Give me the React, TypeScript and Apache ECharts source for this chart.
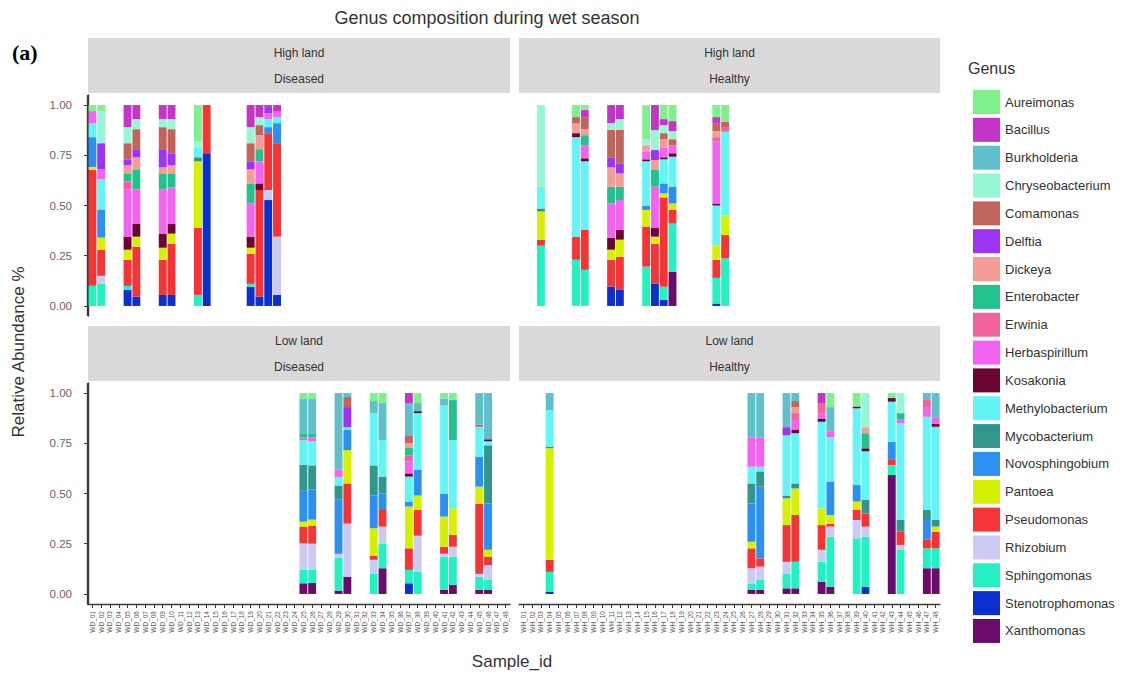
import React, { useEffect, useRef } from "react";
import * as echarts from "echarts";

// Genus order as listed in the key (top of each stack = first genus)
const genera = [
  "Aureimonas", "Bacillus", "Burkholderia", "Chryseobacterium", "Comamonas",
  "Delftia", "Dickeya", "Enterobacter", "Erwinia", "Herbaspirillum",
  "Kosakonia", "Methylobacterium", "Mycobacterium", "Novosphingobium", "Pantoea",
  "Pseudomonas", "Rhizobium", "Sphingomonas", "Stenotrophomonas", "Xanthomonas",
];

const genusColors = [
  "#7ef08c", "#c334c9", "#5fbfca", "#97f7d3", "#c2645c",
  "#9c33f5", "#f79c94", "#22c28c", "#f2629c", "#f562f2",
  "#6b0532", "#62f5f5", "#32968c", "#2b90f0", "#d5f000",
  "#f53535", "#cbcaf5", "#22f2c2", "#0c2fd0", "#6b0c6b",
];

// Sample ids on the shared x axis of each column of panels
const diseasedIds = [
  "WD_01", "WD_02", "WD_03", "WD_04", "WD_05", "WD_06", "WD_07", "WD_08",
  "WD_09", "WD_10", "WD_11", "WD_12", "WD_13", "WD_14", "WD_15", "WD_16",
  "WD_17", "WD_18", "WD_19", "WD_20", "WD_21", "WD_22", "WD_23", "WD_24",
  "WD_25", "WD_26", "WD_27", "WD_28", "WD_29", "WD_30", "WD_31", "WD_32",
  "WD_33", "WD_34", "WD_35", "WD_36", "WD_37", "WD_38", "WD_39", "WD_40",
  "WD_41", "WD_42", "WD_43", "WD_44", "WD_45", "WD_46", "WD_47", "WD_48",
];
const healthyIds = [
  "WH_01", "WH_02", "WH_03", "WH_04", "WH_05", "WH_06", "WH_07", "WH_08",
  "WH_09", "WH_10", "WH_11", "WH_12", "WH_13", "WH_14", "WH_15", "WH_16",
  "WH_17", "WH_18", "WH_19", "WH_20", "WH_21", "WH_22", "WH_23", "WH_24",
  "WH_25", "WH_26", "WH_27", "WH_28", "WH_29", "WH_30", "WH_31", "WH_32",
  "WH_33", "WH_34", "WH_35", "WH_36", "WH_37", "WH_38", "WH_39", "WH_40",
  "WH_41", "WH_42", "WH_43", "WH_44", "WH_45", "WH_46", "WH_47", "WH_48",
];

type Sample = { id: string; ab: Record<string, number> };

const highDiseased: Sample[] = [
  { id: "WD_01", ab: { Sphingomonas: 0.1, Pseudomonas: 0.577, Pantoea: 0.015, Novosphingobium: 0.148, Methylobacterium: 0.07, Herbaspirillum: 0.06, Aureimonas: 0.03 } },
  { id: "WD_02", ab: { Sphingomonas: 0.11, Rhizobium: 0.04, Pseudomonas: 0.13, Pantoea: 0.06, Novosphingobium: 0.14, Methylobacterium: 0.15, Herbaspirillum: 0.05, Delftia: 0.13, Chryseobacterium: 0.16, Aureimonas: 0.03 } },
  { id: "WD_05", ab: { Stenotrophomonas: 0.08, Sphingomonas: 0.02, Pseudomonas: 0.13, Pantoea: 0.05, Kosakonia: 0.065, Herbaspirillum: 0.235, Erwinia: 0.04, Enterobacter: 0.04, Dickeya: 0.04, Delftia: 0.03, Comamonas: 0.08, Chryseobacterium: 0.08, Bacillus: 0.11 } },
  { id: "WD_06", ab: { Stenotrophomonas: 0.046, Pseudomonas: 0.249, Pantoea: 0.05, Kosakonia: 0.065, Herbaspirillum: 0.17, Enterobacter: 0.1, Dickeya: 0.06, Delftia: 0.04, Comamonas: 0.1, Chryseobacterium: 0.05, Bacillus: 0.07 } },
  { id: "WD_09", ab: { Stenotrophomonas: 0.055, Pseudomonas: 0.175, Pantoea: 0.06, Kosakonia: 0.07, Herbaspirillum: 0.22, Enterobacter: 0.08, Dickeya: 0.03, Delftia: 0.09, Comamonas: 0.11, Chryseobacterium: 0.04, Bacillus: 0.07 } },
  { id: "WD_10", ab: { Stenotrophomonas: 0.055, Pseudomonas: 0.255, Pantoea: 0.05, Kosakonia: 0.05, Herbaspirillum: 0.18, Enterobacter: 0.07, Dickeya: 0.04, Delftia: 0.06, Comamonas: 0.12, Chryseobacterium: 0.05, Bacillus: 0.07 } },
  { id: "WD_13", ab: { Sphingomonas: 0.055, Pseudomonas: 0.335, Pantoea: 0.33, Mycobacterium: 0.02, Methylobacterium: 0.05, Chryseobacterium: 0.03, Aureimonas: 0.18 } },
  { id: "WD_14", ab: { Stenotrophomonas: 0.76, Pseudomonas: 0.24 } },
  { id: "WD_19", ab: { Stenotrophomonas: 0.096, Sphingomonas: 0.014, Pseudomonas: 0.15, Pantoea: 0.03, Kosakonia: 0.055, Herbaspirillum: 0.165, Enterobacter: 0.1, Dickeya: 0.07, Delftia: 0.04, Comamonas: 0.09, Chryseobacterium: 0.08, Bacillus: 0.11 } },
  { id: "WD_20", ab: { Stenotrophomonas: 0.046, Pseudomonas: 0.531, Kosakonia: 0.033, Herbaspirillum: 0.11, Enterobacter: 0.06, Dickeya: 0.07, Comamonas: 0.05, Chryseobacterium: 0.04, Bacillus: 0.06 } },
  { id: "WD_21", ab: { Stenotrophomonas: 0.527, Rhizobium: 0.05, Pseudomonas: 0.283, Novosphingobium: 0.03, Methylobacterium: 0.04, Herbaspirillum: 0.03, Delftia: 0.025, Bacillus: 0.015 } },
  { id: "WD_22", ab: { Stenotrophomonas: 0.055, Rhizobium: 0.29, Pseudomonas: 0.465, Novosphingobium: 0.1, Methylobacterium: 0.03, Herbaspirillum: 0.027, Bacillus: 0.033 } },
];

const highHealthy: Sample[] = [
  { id: "WH_03", ab: { Sphingomonas: 0.3, Pseudomonas: 0.03, Pantoea: 0.14, Mycobacterium: 0.015, Methylobacterium: 0.109, Chryseobacterium: 0.406 } },
  { id: "WH_07", ab: { Sphingomonas: 0.23, Pseudomonas: 0.115, Methylobacterium: 0.495, Kosakonia: 0.02, Dickeya: 0.05, Comamonas: 0.03, Aureimonas: 0.06 } },
  { id: "WH_08", ab: { Sphingomonas: 0.18, Pseudomonas: 0.2, Methylobacterium: 0.34, Kosakonia: 0.015, Herbaspirillum: 0.065, Enterobacter: 0.05, Dickeya: 0.03, Comamonas: 0.06, Bacillus: 0.035, Aureimonas: 0.025 } },
  { id: "WH_11", ab: { Stenotrophomonas: 0.096, Pseudomonas: 0.134, Pantoea: 0.05, Kosakonia: 0.06, Herbaspirillum: 0.17, Enterobacter: 0.084, Dickeya: 0.096, Delftia: 0.05, Comamonas: 0.136, Chryseobacterium: 0.034, Bacillus: 0.09 } },
  { id: "WH_12", ab: { Stenotrophomonas: 0.08, Pseudomonas: 0.165, Pantoea: 0.085, Kosakonia: 0.05, Herbaspirillum: 0.147, Enterobacter: 0.067, Dickeya: 0.066, Delftia: 0.05, Comamonas: 0.166, Chryseobacterium: 0.054, Bacillus: 0.07 } },
  { id: "WH_15", ab: { Sphingomonas: 0.196, Pseudomonas: 0.199, Pantoea: 0.083, Novosphingobium: 0.022, Methylobacterium: 0.22, Kosakonia: 0.01, Herbaspirillum: 0.04, Dickeya: 0.03, Chryseobacterium: 0.03, Aureimonas: 0.17 } },
  { id: "WH_16", ab: { Stenotrophomonas: 0.11, Pseudomonas: 0.2, Pantoea: 0.035, Kosakonia: 0.045, Herbaspirillum: 0.204, Enterobacter: 0.083, Dickeya: 0.049, Delftia: 0.05, Chryseobacterium: 0.099, Bacillus: 0.125 } },
  { id: "WH_17", ab: { Stenotrophomonas: 0.03, Sphingomonas: 0.066, Pseudomonas: 0.444, Pantoea: 0.02, Novosphingobium: 0.05, Methylobacterium: 0.12, Kosakonia: 0.01, Herbaspirillum: 0.05, Dickeya: 0.04, Comamonas: 0.03, Chryseobacterium: 0.04, Bacillus: 0.03, Aureimonas: 0.07 } },
  { id: "WH_18", ab: { Xanthomonas: 0.17, Sphingomonas: 0.24, Pseudomonas: 0.068, Pantoea: 0.032, Novosphingobium: 0.084, Methylobacterium: 0.149, Kosakonia: 0.017, Herbaspirillum: 0.04, Comamonas: 0.03, Chryseobacterium: 0.04, Bacillus: 0.05, Aureimonas: 0.08 } },
  { id: "WH_23", ab: { Stenotrophomonas: 0.012, Sphingomonas: 0.128, Pseudomonas: 0.09, Pantoea: 0.07, Methylobacterium: 0.2, Kosakonia: 0.01, Herbaspirillum: 0.31, Erwinia: 0.02, Dickeya: 0.03, Comamonas: 0.04, Bacillus: 0.03, Aureimonas: 0.06 } },
  { id: "WH_24", ab: { Sphingomonas: 0.237, Pseudomonas: 0.116, Pantoea: 0.097, Methylobacterium: 0.417, Erwinia: 0.02, Comamonas: 0.03, Aureimonas: 0.083 } },
];

const lowDiseased: Sample[] = [
  { id: "WD_25", ab: { Xanthomonas: 0.053, Sphingomonas: 0.067, Rhizobium: 0.132, Pseudomonas: 0.083, Pantoea: 0.025, Novosphingobium: 0.157, Mycobacterium: 0.125, Methylobacterium: 0.124, Herbaspirillum: 0.014, Enterobacter: 0.02, Burkholderia: 0.17, Aureimonas: 0.03 } },
  { id: "WD_26", ab: { Xanthomonas: 0.055, Sphingomonas: 0.065, Rhizobium: 0.13, Pseudomonas: 0.09, Pantoea: 0.03, Novosphingobium: 0.15, Mycobacterium: 0.12, Methylobacterium: 0.12, Herbaspirillum: 0.02, Enterobacter: 0.02, Burkholderia: 0.17, Aureimonas: 0.03 } },
  { id: "WD_29", ab: { Xanthomonas: 0.017, Sphingomonas: 0.163, Rhizobium: 0.02, Novosphingobium: 0.27, Mycobacterium: 0.07, Methylobacterium: 0.04, Herbaspirillum: 0.04, Burkholderia: 0.38 } },
  { id: "WD_30", ab: { Xanthomonas: 0.086, Rhizobium: 0.264, Pseudomonas: 0.2, Pantoea: 0.166, Novosphingobium: 0.1, Methylobacterium: 0.014, Delftia: 0.1, Comamonas: 0.05, Burkholderia: 0.02 } },
  { id: "WD_33", ab: { Sphingomonas: 0.1, Rhizobium: 0.07, Pseudomonas: 0.02, Pantoea: 0.137, Novosphingobium: 0.163, Mycobacterium: 0.15, Methylobacterium: 0.26, Burkholderia: 0.06, Aureimonas: 0.04 } },
  { id: "WD_34", ab: { Xanthomonas: 0.128, Sphingomonas: 0.122, Rhizobium: 0.085, Pseudomonas: 0.083, Novosphingobium: 0.082, Mycobacterium: 0.084, Methylobacterium: 0.182, Burkholderia: 0.184, Aureimonas: 0.05 } },
  { id: "WD_37", ab: { Stenotrophomonas: 0.053, Sphingomonas: 0.067, Pseudomonas: 0.107, Pantoea: 0.208, Novosphingobium: 0.025, Methylobacterium: 0.124, Kosakonia: 0.016, Herbaspirillum: 0.06, Erwinia: 0.03, Enterobacter: 0.04, Dickeya: 0.02, Comamonas: 0.04, Burkholderia: 0.16, Bacillus: 0.05 } },
  { id: "WD_38", ab: { Sphingomonas: 0.11, Rhizobium: 0.18, Pseudomonas: 0.128, Pantoea: 0.072, Novosphingobium: 0.127, Methylobacterium: 0.283, Kosakonia: 0.01, Burkholderia: 0.04, Aureimonas: 0.05 } },
  { id: "WD_41", ab: { Xanthomonas: 0.02, Sphingomonas: 0.166, Rhizobium: 0.014, Pseudomonas: 0.035, Pantoea: 0.15, Novosphingobium: 0.115, Methylobacterium: 0.44, Burkholderia: 0.033, Aureimonas: 0.027 } },
  { id: "WD_42", ab: { Xanthomonas: 0.045, Sphingomonas: 0.141, Rhizobium: 0.049, Pseudomonas: 0.059, Pantoea: 0.132, Methylobacterium: 0.34, Enterobacter: 0.199, Aureimonas: 0.035 } },
  { id: "WD_45", ab: { Xanthomonas: 0.02, Sphingomonas: 0.066, Rhizobium: 0.014, Pseudomonas: 0.35, Pantoea: 0.084, Novosphingobium: 0.149, Methylobacterium: 0.149, Comamonas: 0.01, Burkholderia: 0.158 } },
  { id: "WD_46", ab: { Xanthomonas: 0.02, Sphingomonas: 0.05, Rhizobium: 0.074, Pseudomonas: 0.042, Pantoea: 0.034, Novosphingobium: 0.23, Mycobacterium: 0.29, Methylobacterium: 0.02, Kosakonia: 0.01, Burkholderia: 0.23 } },
];

const lowHealthy: Sample[] = [
  { id: "WH_04", ab: { Stenotrophomonas: 0.012, Sphingomonas: 0.098, Pseudomonas: 0.06, Pantoea: 0.555, Mycobacterium: 0.008, Methylobacterium: 0.182, Burkholderia: 0.085 } },
  { id: "WH_27", ab: { Xanthomonas: 0.02, Sphingomonas: 0.033, Rhizobium: 0.075, Pseudomonas: 0.099, Pantoea: 0.033, Novosphingobium: 0.19, Mycobacterium: 0.1, Methylobacterium: 0.083, Herbaspirillum: 0.147, Burkholderia: 0.22 } },
  { id: "WH_28", ab: { Xanthomonas: 0.02, Sphingomonas: 0.05, Rhizobium: 0.066, Pseudomonas: 0.041, Novosphingobium: 0.357, Mycobacterium: 0.076, Methylobacterium: 0.023, Herbaspirillum: 0.147, Burkholderia: 0.22 } },
  { id: "WH_31", ab: { Xanthomonas: 0.028, Sphingomonas: 0.072, Rhizobium: 0.06, Pseudomonas: 0.183, Pantoea: 0.133, Mycobacterium: 0.014, Methylobacterium: 0.3, Delftia: 0.04, Burkholderia: 0.17 } },
  { id: "WH_32", ab: { Xanthomonas: 0.028, Sphingomonas: 0.132, Pseudomonas: 0.233, Pantoea: 0.132, Mycobacterium: 0.025, Methylobacterium: 0.25, Kosakonia: 0.016, Herbaspirillum: 0.05, Erwinia: 0.034, Dickeya: 0.03, Comamonas: 0.03, Burkholderia: 0.04 } },
  { id: "WH_35", ab: { Xanthomonas: 0.06, Sphingomonas: 0.1, Rhizobium: 0.06, Pseudomonas: 0.123, Pantoea: 0.083, Methylobacterium: 0.431, Kosakonia: 0.016, Herbaspirillum: 0.027, Erwinia: 0.05, Bacillus: 0.05 } },
  { id: "WH_36", ab: { Xanthomonas: 0.036, Sphingomonas: 0.249, Rhizobium: 0.05, Pseudomonas: 0.015, Pantoea: 0.043, Novosphingobium: 0.167, Methylobacterium: 0.22, Herbaspirillum: 0.03, Burkholderia: 0.12, Aureimonas: 0.07 } },
  { id: "WH_39", ab: { Sphingomonas: 0.277, Rhizobium: 0.091, Pseudomonas: 0.05, Pantoea: 0.042, Novosphingobium: 0.082, Methylobacterium: 0.382, Kosakonia: 0.009, Aureimonas: 0.067 } },
  { id: "WH_40", ab: { Stenotrophomonas: 0.036, Sphingomonas: 0.249, Rhizobium: 0.05, Pseudomonas: 0.065, Mycobacterium: 0.07, Methylobacterium: 0.24, Kosakonia: 0.015, Enterobacter: 0.075, Dickeya: 0.03, Chryseobacterium: 0.17 } },
  { id: "WH_43", ab: { Xanthomonas: 0.592, Sphingomonas: 0.05, Pseudomonas: 0.025, Novosphingobium: 0.091, Methylobacterium: 0.199, Kosakonia: 0.018, Aureimonas: 0.025 } },
  { id: "WH_44", ab: { Sphingomonas: 0.22, Rhizobium: 0.024, Pseudomonas: 0.066, Mycobacterium: 0.058, Methylobacterium: 0.482, Herbaspirillum: 0.02, Enterobacter: 0.03, Chryseobacterium: 0.1 } },
  { id: "WH_47", ab: { Xanthomonas: 0.128, Sphingomonas: 0.099, Pseudomonas: 0.043, Novosphingobium: 0.098, Mycobacterium: 0.05, Methylobacterium: 0.464, Herbaspirillum: 0.048, Erwinia: 0.035, Burkholderia: 0.035 } },
  { id: "WH_48", ab: { Xanthomonas: 0.128, Sphingomonas: 0.099, Pseudomonas: 0.083, Pantoea: 0.025, Mycobacterium: 0.033, Methylobacterium: 0.464, Kosakonia: 0.016, Herbaspirillum: 0.032, Burkholderia: 0.12 } },
];

const yTicks = [0, 0.25, 0.5, 0.75, 1];

const FONT = "Liberation Sans, Arial, Helvetica, sans-serif";
const AXIS_COLOR = "#3a3a3a";
const STRIP_FILL = "#d9d9d9";

const panelLayout = [
  { data: highDiseased, ids: diseasedIds, left: 88, top: 95, width: 422, strip: ["High land", "Diseased"], yAxis: true, xAxis: false },
  { data: highHealthy, ids: healthyIds, left: 519, top: 95, width: 421, strip: ["High land", "Healthy"], yAxis: false, xAxis: false },
  { data: lowDiseased, ids: diseasedIds, left: 88, top: 383, width: 422, strip: ["Low land", "Diseased"], yAxis: true, xAxis: true },
  { data: lowHealthy, ids: healthyIds, left: 519, top: 383, width: 421, strip: ["Low land", "Healthy"], yAxis: false, xAxis: true },
];
const PANEL_H = 221;
const STRIP_H = 55;

function buildOption() {
  const grid: any[] = [];
  const xAxis: any[] = [];
  const yAxis: any[] = [];
  const series: any[] = [];
  const graphic: any[] = [];

  panelLayout.forEach((p, k) => {
    grid.push({ left: p.left, top: p.top, width: p.width, height: PANEL_H, containLabel: false });

    xAxis.push({
      type: "category",
      gridIndex: k,
      data: p.ids,
      boundaryGap: true,
      axisLine: { show: p.xAxis, onZero: false, lineStyle: { color: AXIS_COLOR, width: 1.4 } },
      axisTick: { show: p.xAxis, alignWithLabel: true, length: 4, lineStyle: { color: AXIS_COLOR } },
      axisLabel: {
        show: p.xAxis, interval: 0, rotate: 90, fontSize: 6.5, color: "#555",
        fontFamily: FONT, margin: 7,
      },
      splitLine: { show: false },
    });

    yAxis.push({
      type: "value",
      gridIndex: k,
      min: -0.05,
      max: 1.05,
      show: p.yAxis,
      splitLine: { show: false },
      axisLine: { show: true, onZero: false, lineStyle: { color: AXIS_COLOR, width: 1.4 } },
      axisTick: { show: true, length: 4, customValues: yTicks, lineStyle: { color: AXIS_COLOR } },
      axisLabel: {
        customValues: yTicks,
        formatter: (v: number) => v.toFixed(2),
        fontSize: 11.5, color: "#666", fontFamily: FONT, margin: 16,
      },
    });

    const byId = new Map(p.data.map((s) => [s.id, s.ab]));
    // stack from the last genus upward so that the first genus sits on top
    for (let g = genera.length - 1; g >= 0; g--) {
      const name = genera[g];
      series.push({
        name,
        type: "bar",
        stack: "panel" + k,
        xAxisIndex: k,
        yAxisIndex: k,
        barCategoryGap: "10%",
        silent: true,
        emphasis: { disabled: true },
        itemStyle: { color: genusColors[g] },
        data: p.ids.map((id) => {
          const ab = byId.get(id);
          return ab && ab[name] ? ab[name] : 0;
        }),
      });
    }

    // left axis line of the panel column
    if (p.yAxis) {
      graphic.push({
        type: "line",
        z: 50,
        shape: { x1: p.left - 0.5, y1: p.top, x2: p.left - 0.5, y2: p.top + PANEL_H + (p.xAxis ? 0.7 : 0) },
        style: { stroke: AXIS_COLOR, lineWidth: 1.4 },
        silent: true,
      });
    }

    // facet strip
    const stripTop = p.top - STRIP_H - 2;
    graphic.push({
      type: "rect",
      shape: { x: p.left, y: stripTop, width: p.width, height: STRIP_H },
      style: { fill: STRIP_FILL },
      silent: true,
    });
    p.strip.forEach((label, i) => {
      graphic.push({
        type: "text",
        x: p.left + p.width / 2,
        y: stripTop + 15 + i * 26,
        style: {
          text: label, fill: "#333", font: `12px ${FONT}`,
          textAlign: "center", textVerticalAlign: "middle",
        },
        silent: true,
      });
    });
  });

  graphic.push(
    {
      type: "text", x: 487, y: 18,
      style: {
        text: "Genus composition during wet season", fill: "#333",
        font: `18px ${FONT}`, textAlign: "center", textVerticalAlign: "middle",
      },
    },
    {
      type: "text", x: 12, y: 52,
      style: {
        text: "(a)", fill: "#000", font: `bold 22px "Liberation Serif", "Times New Roman", serif`,
        textAlign: "left", textVerticalAlign: "middle",
      },
    },
    {
      type: "text", x: 18, y: 352, rotation: Math.PI / 2,
      style: {
        text: "Relative Abundance %", fill: "#333", font: `17px ${FONT}`,
        textAlign: "center", textVerticalAlign: "middle",
      },
    },
    {
      type: "text", x: 512, y: 661,
      style: {
        text: "Sample_id", fill: "#333", font: `17px ${FONT}`,
        textAlign: "center", textVerticalAlign: "middle",
      },
    },
    {
      type: "text", x: 968, y: 68,
      style: {
        text: "Genus", fill: "#333", font: `16px ${FONT}`,
        textAlign: "left", textVerticalAlign: "middle",
      },
    }
  );

  return {
    animation: false,
    backgroundColor: "#ffffff",
    grid,
    xAxis,
    yAxis,
    series,
    graphic,
    legend: {
      data: genera,
      orient: "vertical",
      left: 968,
      top: 85,
      icon: "rect",
      itemWidth: 27,
      itemHeight: 24,
      itemGap: 3.84,
      selectedMode: false,
      textStyle: { fontSize: 13, color: "#333", fontFamily: FONT },
    },
  };
}

export default function App() {
  const ref = useRef<HTMLDivElement>(null);

  useEffect(() => {
    if (!ref.current) return;
    const chart = echarts.init(ref.current, undefined, { renderer: "svg" });
    chart.setOption(buildOption() as any);
    return () => chart.dispose();
  }, []);

  return (
    <div
      ref={ref}
      style={{ position: "fixed", left: 0, top: 0, width: 1130, height: 675, background: "#fff" }}
    />
  );
}
